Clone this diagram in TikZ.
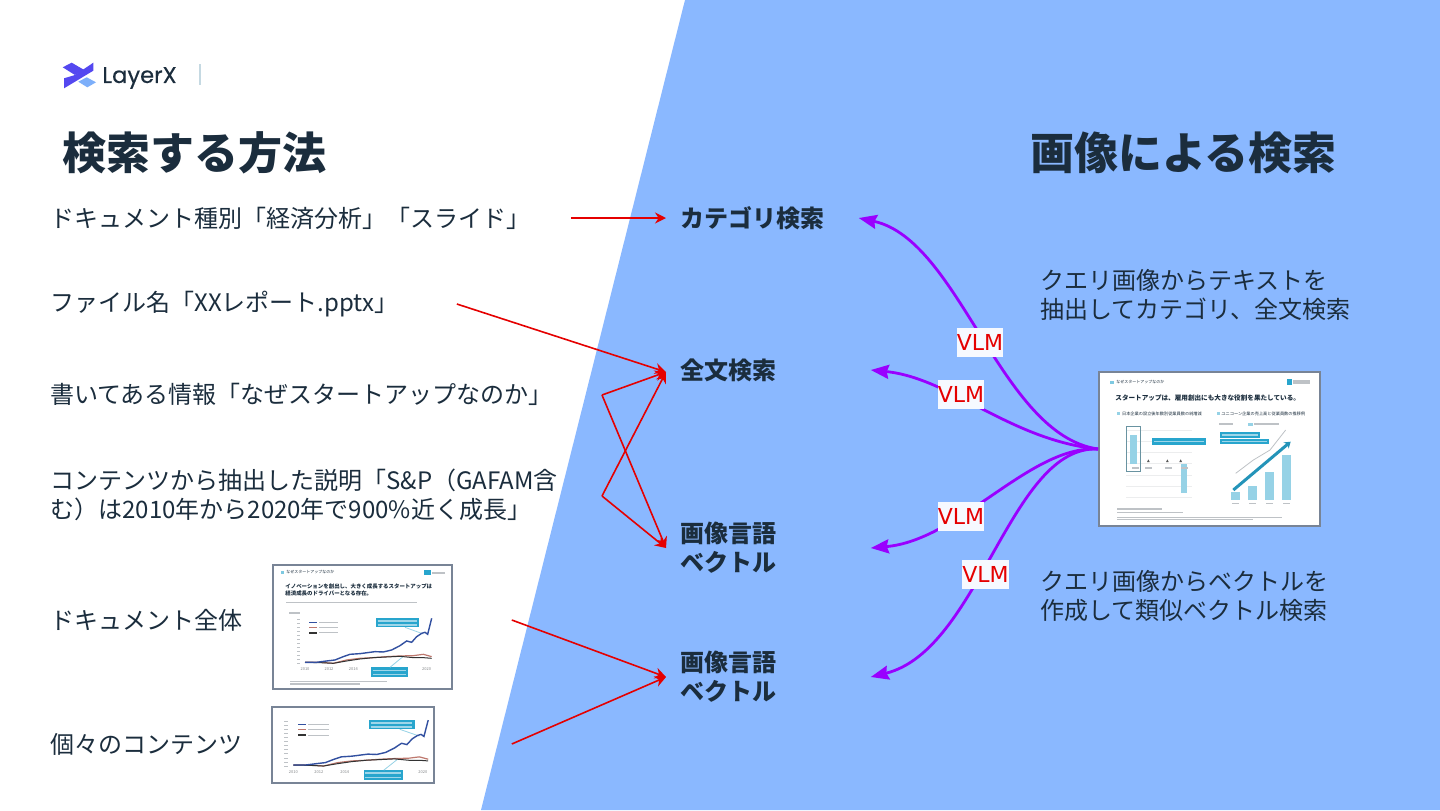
\documentclass[tikz,border=0pt]{standalone}
\usepackage{fontspec}
\setmainfont{Noto Sans CJK JP}
\newfontfamily\logofont[FakeBold=0.4]{Poppins}
\newfontfamily\vlmfont{DejaVu Sans}
\usepackage{xcolor}
\definecolor{SlideBlue}{RGB}{138,184,255}
\definecolor{InkNavy}{RGB}{27,45,61}
\definecolor{VlmPurple}{RGB}{153,0,255}
\definecolor{ThumbEdge}{RGB}{120,132,150}
\definecolor{ThumbCyan}{RGB}{40,165,205}
\definecolor{ThumbBar}{RGB}{150,210,230}
\definecolor{ThumbGray}{RGB}{190,194,198}
\definecolor{ThumbBlue}{RGB}{50,80,160}
\definecolor{ThumbBrown}{RGB}{190,120,110}
\definecolor{LogoDark}{RGB}{84,72,240}
\definecolor{LogoLight}{RGB}{125,175,250}
\usetikzlibrary{positioning,arrows.meta}
\newcommand{\tinyjp}[1]{\fontsize{#1}{#1}\selectfont}
\tikzset{
  stockchart/.pic={
    \foreach \ty in {-130,-118,...,10} \fill[ThumbGray] (-25,\ty) rectangle (-14,\ty+2);
    \fill[ThumbCyan] (213,-132) rectangle (342,-105);
    \fill[ThumbCyan] (198,15) rectangle (310,44);
    \foreach \ty in {-124,-112} \draw[white!55!ThumbCyan,line width=.7pt] (218,\ty) -- (335,\ty);
    \foreach \ty in {24,36} \draw[white!55!ThumbCyan,line width=.7pt] (203,\ty) -- (304,\ty);
    \draw[ThumbBar,line width=.4pt] (300,-105) -- (355,-85);
    \draw[ThumbBar,line width=.4pt] (255,15) -- (295,-18);
    \draw[ThumbBrown,line width=.6pt] (0,0) -- (45,0) -- (85,3) -- (125,-7) -- (165,-12) -- (205,-14) -- (245,-17) -- (285,-19) -- (325,-20) -- (355,-24) -- (380,-17);
    \draw[black!80,line width=.5pt] (0,0) -- (45,1) -- (85,3) -- (125,-4) -- (165,-10) -- (205,-14) -- (245,-16) -- (285,-18) -- (325,-14) -- (355,-14) -- (380,-12);
    \draw[ThumbBlue,line width=.7pt] (0,0) -- (35,0) -- (65,-4) -- (90,-7) -- (115,-17) -- (135,-24) -- (165,-26) -- (195,-30) -- (210,-32) -- (235,-31) -- (260,-37) -- (285,-50) -- (305,-64) -- (320,-60) -- (335,-77) -- (350,-87) -- (360,-90) -- (368,-84) -- (380,-132);
    \fill[ThumbBlue] (12,-121) rectangle (35,-117);
    \fill[ThumbBrown] (12,-106) rectangle (35,-102);
    \fill[black!80] (12,-90) rectangle (35,-86);
    \foreach \ty in {-119,-104,-88} \fill[ThumbGray] (42,\ty-1.5) rectangle (100,\ty+1.5);
    \foreach \tx/\tl in {0/2010,72/2012,145/2014,365/2020} \node[ThumbGray!70!black,font=\tinyjp{2}] at (\tx,20) {\tl};
  }
}
\begin{document}
\begin{tikzpicture}[x=0.5pt,y=-0.5pt,
    head/.style={anchor=center, inner sep=0pt, text=InkNavy, font=\fontsize{22}{26}\selectfont\bfseries},
    item/.style={anchor=west, inner sep=0pt, align=left, text=InkNavy, font=\fontsize{12}{14.5}\selectfont},
    kind/.style={anchor=west, inner sep=0pt, align=left, text=InkNavy, font=\fontsize{12}{14.5}\selectfont\bfseries},
    vlm/.style={fill=white!92!SlideBlue, text=red!90!black, inner sep=0pt, minimum width=23pt, minimum height=14.5pt, font=\fontsize{11}{14}\vlmfont},
    thumb/.style={draw=ThumbEdge, fill=white, line width=1pt, inner sep=0pt},
    ttl/.style={anchor=west, inner sep=0pt, text=InkNavy},
    ra/.style={-{Stealth[length=5.5pt,width=5.5pt]}, red!90!black, line width=.8pt},
    pa/.style={-{Stealth[length=9pt,width=7pt,inset=1pt]}, VlmPurple, line width=1.4pt}
]
    \useasboundingbox (0,0) rectangle (1440,810);
    \fill[white] (0,0) rectangle (1440,810);
    \fill[SlideBlue] (685,0) -- (1440,0) -- (1440,810) -- (481,810) -- cycle;

    \fill[LogoDark] (62.7,67.3) -- (71.7,62.7) -- (84.3,70) -- (75,75) -- cycle;
    \fill[LogoDark] (75,75) -- (93.3,62.7) -- (93.3,70.7) -- (75,81.7) -- cycle;
    \fill[LogoDark] (64,78.3) -- (75,75) -- (75,81.7) -- (64,88.3) -- cycle;
    \fill[LogoLight] (78.3,81.7) -- (86.7,77.3) -- (96,82.3) -- (87.3,87.3) -- cycle;
    \node[inner sep=0pt, text=InkNavy, font=\fontsize{11.3}{14}\logofont] (logo) at (139.5,78) {LayerX};
    \draw[ThumbBar!60!ThumbEdge!50, line width=.8pt] (200,64) -- (200,85);

    \node[head] (ltitle) at (194.5,153) {検索する方法};
    \node[head] (rtitle) at (1183.5,153) {画像による検索};

    \node[item] (doctype) at (50,218) {ドキュメント種別「経済分析」「スライド」};
    \node[item] (fname) at (50,304) {ファイル名「XXレポート.pptx」};
    \node[item] (info) at (50,394) {書いてある情報「なぜスタートアップなのか」};
    \node[item] (desc) at (50,495) {コンテンツから抽出した説明「S\&P（GAFAM含\\む）は2010年から2020年で900\%近く成長」};
    \node[item] (whole) at (50,620) {ドキュメント全体};
    \node[item] (part) at (50,744) {個々のコンテンツ};

    \node[kind] (cat) at (680,218) {カテゴリ検索};
    \node[kind] (full) at (680,370) {全文検索};
    \node[kind] (vec) at (680,548) {画像言語\\ベクトル};
    \node[kind] (vecb) at (680,677) {画像言語\\ベクトル};

    \node[item] (noteup) at (1040,295) {クエリ画像からテキストを\\抽出してカテゴリ、全文検索};
    \node[item] (notedown) at (1040,596) {クエリ画像からベクトルを\\作成して類似ベクトル検索};

    \node[thumb, minimum width=89.5pt, minimum height=62pt] (shotwhole) at (362,627) {};
    \node[thumb, minimum width=81pt, minimum height=38pt] (shotpart) at (353,745) {};
    \node[thumb, minimum width=110.5pt, minimum height=77pt] (query) at (1209.5,449) {};

    \begin{scope}[shift={(260,555)},scale=1/3]
        \fill[ThumbCyan!60] (62,48) rectangle (72,56);
        \node[ttl, font=\tinyjp{2}] (wholehead) at (78,52) {なぜスタートアップなのか};
        \fill[ThumbCyan] (492,46) rectangle (512,60);
        \fill[ThumbGray] (515,50) rectangle (555,56);
        \node[ttl, font=\fontsize{2.72}{3.6}\selectfont\bfseries, align=left] (wholettl) at (75,104) {イノベーションを創出し、大きく成長するスタートアップは\\経済成長のドライバーとなる存在。};
        \fill[ThumbGray] (78,140) rectangle (470,145);
        \fill[ThumbGray] (88,170) rectangle (120,176);
        \fill[ThumbGray] (90,377) rectangle (380,381);
        \fill[ThumbGray] (90,385) rectangle (300,389);
    \end{scope}
    \pic[x=0.5pt,y=-0.5pt,xscale=1/3,yscale=1/3] at (305,662.3) {stockchart};
    \pic[x=0.5pt,y=-0.5pt,xscale=0.355,yscale=0.34] at (293.3,765) {stockchart};

    \begin{scope}[shift={(1090,365)},scale=1/3]
        \fill[ThumbCyan!60] (60,48) rectangle (72,56);
        \node[ttl, font=\tinyjp{2}] (queryhead) at (78,52) {なぜスタートアップなのか};
        \fill[ThumbCyan] (590,42) rectangle (606,60);
        \fill[ThumbGray] (608,46) rectangle (660,56);
        \node[ttl, font=\tinyjp{3.3}\bfseries] (queryttl) at (75,99) {スタートアップは、雇用創出にも大きな役割を果たしている。};
        \fill[ThumbBar] (80,142) rectangle (90,150);
        \node[ttl, font=\tinyjp{2.1}] (subleft) at (95,146) {日本企業の設立後年数別従業員数の純増減};
        \fill[ThumbBar] (380,142) rectangle (390,150);
        \node[ttl, font=\tinyjp{2.1}] (subright) at (393,146) {ユニコーン企業の売上高と従業員数の推移例};
        \foreach \ty in {196,229,262,296,330,363,397} \draw[ThumbGray!30,line width=.2pt] (108,\ty) -- (305,\ty);
        \draw[ThumbBar!70!black,line width=.4pt] (108,185) rectangle (152,320);
        \fill[ThumbBar] (120,210) rectangle (142,297);
        \fill[ThumbBar] (272,297) rectangle (292,385);
        \fill[ThumbCyan] (187,220) rectangle (348,240);
        \draw[white!55!ThumbCyan,line width=.8pt] (192,230) -- (342,230);
        \foreach \tx in {175,232,272} \fill[black!65] (\tx-4,291) -- (\tx+4,291) -- (\tx,283) -- cycle;
        \foreach \tx in {125,165,225,272} \fill[ThumbGray] (\tx,307) rectangle (\tx+22,312);
        \fill[ThumbGray] (388,175) rectangle (430,181);
        \fill[ThumbBar] (475,174) rectangle (488,182);
        \fill[ThumbGray] (492,175) rectangle (568,181);
        \draw[ThumbGray,line width=.4pt] (437,325) -- (490,285) -- (540,255) -- (587,195);
        \fill[ThumbBar] (423,382) rectangle (450,405);
        \fill[ThumbBar] (473,362) rectangle (500,405);
        \fill[ThumbBar] (524,322) rectangle (552,405);
        \fill[ThumbBar] (575,270) rectangle (602,405);
        \draw[-{Stealth[length=3pt,width=4pt]},ThumbCyan!90!black,line width=1.5pt] (430,375) -- (602,230);
        \fill[ThumbCyan] (390,202) rectangle (510,218);
        \fill[ThumbCyan] (390,222) rectangle (538,238);
        \draw[white!55!ThumbCyan,line width=.8pt] (395,210) -- (505,210);
        \draw[white!55!ThumbCyan,line width=.8pt] (395,230) -- (532,230);
        \foreach \tx in {423,473,524,575} \fill[ThumbGray] (\tx+4,413) rectangle (\tx+24,418);
        \fill[ThumbGray] (80,430) rectangle (215,434);
        \fill[ThumbGray] (80,441) rectangle (280,445);
        \fill[ThumbGray] (80,455) rectangle (575,458);
        \fill[ThumbGray] (80,463) rectangle (490,466);
    \end{scope}

    \coordinate (elbowa) at (602,395);
    \coordinate (elbowb) at (602,496);
    \draw[ra] ([xshift=20pt]doctype.east) -- ([xshift=-7pt]cat.west);
    \draw[ra] ([xshift=29pt]fname.east) -- ([shift={(-7pt,-1pt)}]full.west);
    \draw[ra] (elbowa) -- ([shift={(-7pt,-1pt)}]full.west);
    \draw[ra] (elbowa) -- ([xshift=-7pt]vec.west);
    \draw[ra] (elbowb) -- ([shift={(-7pt,-1pt)}]full.west);
    \draw[ra] (elbowb) -- ([xshift=-7pt]vec.west);
    \draw[ra] ([xshift=134.5pt]whole.east) -- ([xshift=-7pt]vecb.west);
    \draw[ra] ([xshift=134.5pt]part.east) -- ([xshift=-7pt]vecb.west);

    \draw[pa] (query.west) .. controls (1000,435) and (960,240) .. ([xshift=17pt]cat.east);
    \draw[pa] (query.west) .. controls (1010,440) and (950,378) .. ([xshift=47pt]full.east);
    \draw[pa] (query.west) .. controls (1030,445) and (960,540) .. ([xshift=47pt]vec.east);
    \draw[pa] (query.west) .. controls (1010,445) and (980,650) .. ([xshift=47pt]vecb.east);

    \node[vlm] (vlma) at (980,342.5) {VLM};
    \node[vlm] (vlmb) at (961,394.5) {VLM};
    \node[vlm] (vlmc) at (961,516) {VLM};
    \node[vlm] (vlmd) at (985.5,574) {VLM};
\end{tikzpicture}
\end{document}
